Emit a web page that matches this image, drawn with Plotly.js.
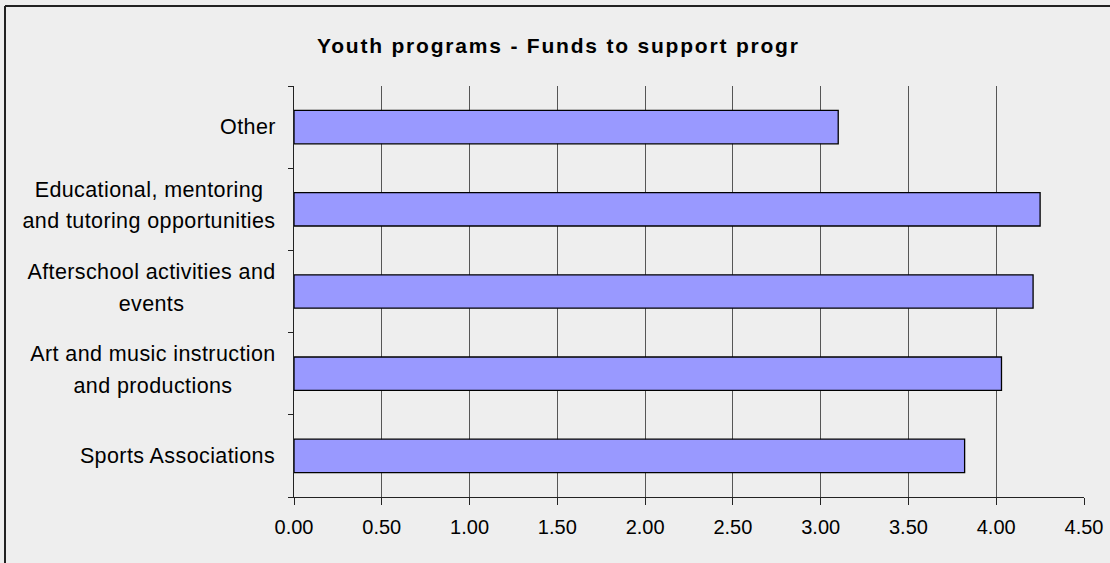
<!DOCTYPE html>
<html>
<head>
<meta charset="utf-8">
<script src="https://cdn.plot.ly/plotly-3.0.1.min.js"></script>
<style>
  html, body { margin: 0; padding: 0; background: #EEEEEE; }
  #chart { width: 1110px; height: 563px; }
  .gtitle { letter-spacing: 1.8px; }
  .annotation-text { letter-spacing: 0.4px; }
</style>
</head>
<body>
<div id="chart"></div>
<script>
// Data (bottom to top as drawn)
const categories = [
  "Sports Associations",
  "Art and music instruction and productions",
  "Afterschool activities and events",
  "Educational, mentoring and tutoring opportunities",
  "Other"
];
const categoryLabelLines = [
  ["Sports Associations"],
  ["Art and music instruction", "and productions"],
  ["Afterschool activities and", "events"],
  ["Educational, mentoring", "and tutoring opportunities"],
  ["Other"]
];
const values = [3.82, 4.03, 4.21, 4.25, 3.10];
const titleText = "Youth programs - Funds to support progr";

const FONT = 'Arial, "Liberation Sans", sans-serif';
const LABEL_SIZE = 21.5;
const LETTER_SP = 0.4;

// measure text widths so multi-line labels can be centred within a right-aligned block
const ctx = document.createElement('canvas').getContext('2d');
ctx.font = LABEL_SIZE + 'px Arial, "Liberation Sans", sans-serif';
function textWidth(s) { return ctx.measureText(s).width + LETTER_SP * s.length; }

const trace = {
  type: 'bar',
  orientation: 'h',
  y: categories,
  x: values,
  marker: { color: '#9999FF', line: { color: '#000000', width: 1.3 } },
  hoverinfo: 'x+y'
};

const annotations = [];
categories.forEach((c, i) => {
  const lines = categoryLabelLines[i];
  const shifts = lines.length === 1 ? [0] : [19.5, -12];
  const blockW = Math.ceil(Math.max(...lines.map(textWidth)));
  lines.forEach((ln, k) => {
    annotations.push({
      xref: 'paper', yref: 'y',
      x: 0, y: c,
      xanchor: 'right', yanchor: 'middle',
      xshift: -16, yshift: shifts[k],
      width: blockW,
      text: ln,
      align: 'center',
      showarrow: false,
      font: { family: FONT, size: LABEL_SIZE, color: '#000000' }
    });
  });
});

const layout = {
  width: 1110, height: 563,
  paper_bgcolor: '#EEEEEE',
  plot_bgcolor: '#EEEEEE',
  margin: { l: 294, r: 26, t: 86, b: 66, pad: 0 },
  showlegend: false,
  bargap: 0.594,
  title: {
    text: '<b>' + titleText + '</b>',
    font: { family: FONT, size: 21, color: '#000000' },
    xref: 'container', yref: 'container',
    x: 0.503, y: 1 - 46/563,
    xanchor: 'center', yanchor: 'middle'
  },
  xaxis: {
    range: [0, 4.5],
    dtick: 0.5,
    tick0: 0,
    tickformat: '.2f',
    showgrid: true,
    gridcolor: '#555555',
    gridwidth: 1,
    zeroline: false,
    showline: true,
    linecolor: '#222222',
    linewidth: 1,
    ticks: 'outside',
    ticklen: 7,
    tickcolor: '#222222',
    ticklabelstandoff: 5,
    tickfont: { family: FONT, size: 20, color: '#000000' },
    fixedrange: true
  },
  yaxis: {
    type: 'category',
    categoryorder: 'array',
    categoryarray: categories,
    showticklabels: false,
    ticks: 'outside',
    tickson: 'boundaries',
    ticklen: 5,
    tickcolor: '#222222',
    showgrid: false,
    zeroline: false,
    showline: true,
    linecolor: '#222222',
    linewidth: 1,
    fixedrange: true
  },
  annotations: annotations,
  shapes: [
    { type: 'line', xref: 'paper', yref: 'paper',
      x0: (5 - 294) / 790, x1: (1112 - 294) / 790,
      y0: (497 - 6) / 411, y1: (497 - 6) / 411,
      line: { color: '#222222', width: 2 } },
    { type: 'line', xref: 'paper', yref: 'paper',
      x0: (5 - 294) / 790, x1: (5 - 294) / 790,
      y0: (497 - 6) / 411, y1: (497 - 565) / 411,
      line: { color: '#222222', width: 2 } }
  ]
};

Plotly.newPlot('chart', [trace], layout, { displayModeBar: false, staticPlot: true });
</script>
</body>
</html>
